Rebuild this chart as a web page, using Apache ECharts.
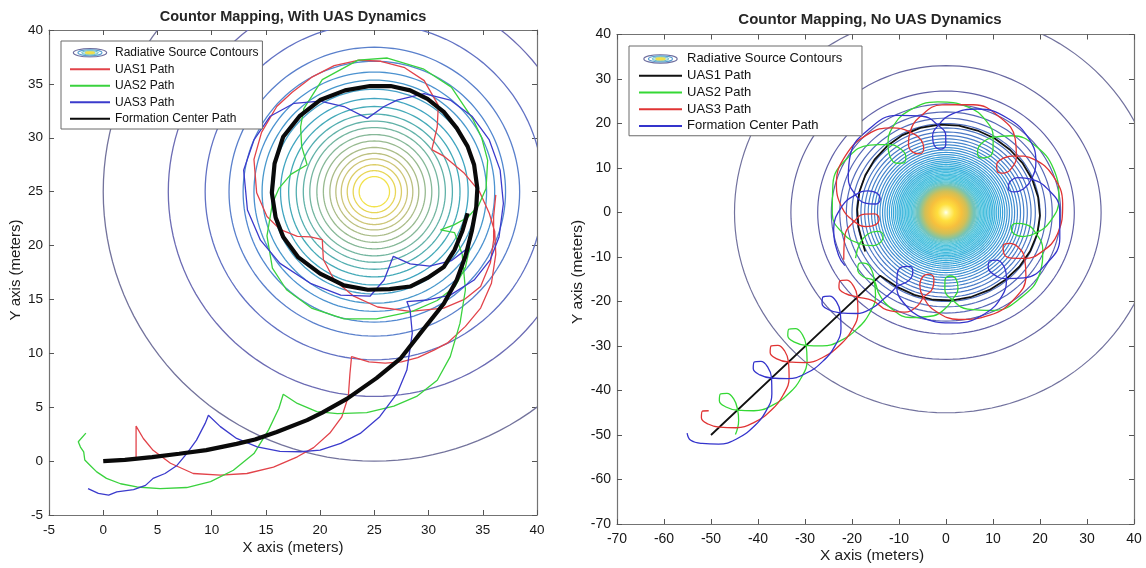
<!DOCTYPE html>
<html><head><meta charset="utf-8">
<script src="https://cdn.jsdelivr.net/npm/echarts@6/dist/echarts.min.js"></script>
<style>html,body{margin:0;padding:0;background:#fff}#c{width:1146px;height:568px}</style>
</head><body><div id="c"></div>
<script>
// ---------------- DATA ----------------
var leftTicks = [-5, 0, 5, 10, 15, 20, 25, 30, 35, 40];
var rightTicks = [-70, -60, -50, -40, -30, -20, -10, 0, 10, 20, 30, 40];

var leftSourceCenter = [25, 25];
var leftContourRadii = [25, 19, 15.6, 13.4, 12.1, 11.1, 10.35, 9.5, 8.65, 7.9, 7.2, 6.55, 5.95, 5.3, 4.7, 4.1, 3.55, 3.05, 2.5, 1.95, 1.4];

var rightSourceCenter = [0, 0];
var rightContourRadii = [45, 33, 27.3, 24.4, 22.6, 21.2, 20.0, 19.0, 18.1, 17.3, 16.55, 15.85, 15.2, 14.6, 14.05, 13.5, 13.0, 12.5, 12.05, 11.6, 11.2, 10.8, 10.4, 10.0, 9.65, 9.3, 8.95, 8.6, 8.3, 8.0, 7.7, 7.4, 7.1, 6.85, 6.6, 6.35];
var rightCoreRadii = [10.6, 6.3];

// Left chart paths [x, y]
var leftUAS1 = [[3.03,0.25],[3.03,3.25],[3.7,2.1],[4.6,1.0],[6.2,-0.2],[8.3,-1.15],[10.8,-1.3],[13.25,-1.15],[15.7,-0.55],[17.9,0.4],[19.4,1.25],[20.9,2.6],[22.0,4.1],[22.6,6.0],[22.75,8.1],[22.9,9.7],
[24.5,9.2],[26.0,9.1],[27.5,9.2],[29.0,9.6],[30.5,10.3],[31.8,11.0],[33.4,12.5],[34.8,14.2],[35.8,16.5],[36.2,19.2],[36.1,21.3],[35.6,23.0],[34.7,25.0],[33.3,26.7],[31.4,28.3],[30.3,28.9],
[30.8,31.0],[30.9,33.0],[29.6,35.3],[27.8,36.5],[25.6,37.1],[23.6,37.2],[21.3,36.7],[19.2,35.6],[17.4,34.2],[16.0,32.9],[14.6,30.5],[13.9,28.0],[14.15,24.9],[15.1,22.7],[16.3,21.5],[17.9,20.85],[19.1,20.8],[20.2,20.55],
[20.3,18.7],[21.3,16.8],[23.1,15.3],[25.3,14.3],[28.3,13.9],[31.4,14.2],[33.3,15.0],[34.8,16.2],[35.7,18.4],[36.0,20.5],[36.0,22.7],[36.2,24.7]];

var leftUAS2 = [[-1.6,2.6],[-2.3,1.8],[-2.1,1.3],[-1.8,0.85],[-1.7,0.1],[-1.2,-0.4],[-0.6,-1.0],[0.3,-1.6],[1.6,-2.1],[3.1,-2.4],[5.25,-2.55],[7.7,-2.45],[9.9,-1.9],[12.0,-0.85],[13.9,0.7],[15.25,2.9],[16.2,4.9],[16.6,6.2],
[17.9,5.35],[19.7,4.6],[21.6,4.4],[24.3,4.5],[26.8,5.1],[28.9,6.0],[30.8,7.5],[32.0,9.7],[32.9,12.8],[33.4,15.9],[33.1,19.2],[32.4,21.2],[31.1,21.45],
[32.3,21.9],[33.6,22.6],[34.6,23.7],[35.3,25.3],[35.45,27.9],[34.9,30.0],[34.1,31.7],[32.1,34.7],[29.5,36.4],[26.2,37.4],[23.5,37.2],[20.2,35.4],[18.5,32.7],[18.2,31.0],[18.3,29.2],[18.8,27.5],
[17.3,26.6],[16.2,25.3],[15.6,23.9],[15.1,20.9],[15.6,17.9],[16.9,15.9],[19.2,14.2],[22.2,13.2],[25.2,13.2],[28.5,13.9],[30.8,14.9],[32.45,16.2],[33.4,18.0],[33.8,19.8]];

var leftUAS3 = [[-1.4,-2.55],[-0.45,-3.0],[0.5,-3.15],[1.25,-2.85],[2.8,-2.65],[3.9,-2.25],[4.6,-1.6],[5.7,-1.15],[6.8,-0.4],[7.7,0.7],[8.6,1.95],[9.4,3.5],[9.7,4.25],
[10.8,3.2],[12.3,2.1],[14.2,1.33],[16.3,0.9],[18.2,0.87],[20.0,1.02],[21.9,1.64],[23.7,2.57],[25.5,4.12],[27.1,6.28],[28.0,8.45],[28.5,11.86],[28.3,14.0],[28.0,14.8],
[29.9,14.95],[32.0,15.4],[34.2,16.8],[35.7,18.7],[36.5,20.8],[36.9,23.9],[36.6,27.0],[35.6,29.8],[34.0,32.0],[32.0,33.5],[29.6,34.1],[27.1,33.5],[25.9,32.9],[24.35,31.8],
[22.2,32.9],[20.0,33.4],[17.6,33.2],[15.4,32.0],[13.9,29.8],[12.95,27.0],[13.3,23.3],[14.5,20.5],[16.3,18.35],[19.1,16.5],[21.9,15.4],[24.6,15.3],[25.9,16.8],[26.75,19.0],
[28.3,18.3],[30.1,18.1],[32.1,18.6],[33.8,19.9]];

var leftFormation = [[0,0],[2,0.12],[4.5,0.37],[7,0.68],[9.5,1.02],[12.3,1.6],[14,2.0],[16,2.7],[18.8,3.8],[20.2,4.5],[22.5,5.8],[25.2,7.7],[27.4,9.5],[29.5,12.2],[31.4,14.6],[32.6,16.8],[33.4,19.0],[34.0,21.4],[34.4,23.6],[34.5,25.3],
[34.2,27.5],[33.6,29.2],[32.6,30.9],[31.4,32.4],[29.9,33.6],[28.3,34.4],[26.5,34.8],[24.6,34.8],[22.3,34.4],[20.0,33.5],[18.1,32.0],[16.6,30.1],[15.8,27.6],[15.55,24.9],[15.9,22.6],[16.6,20.8],[18.0,18.9],[20.0,17.4],[22.2,16.3],[24.4,15.9],[26.4,15.95],[28.3,16.2],[29.9,17.0],[31.4,18.0],[32.4,19.6],[33.1,21.3],[33.6,23.0]];

// Right chart paths: straight part as [x, y], circling part read as [angle deg, radius] about the source
var rightUAS1Line = [[-50,-50],[-14,-14.2]];
var rightUAS1Circle = [[225.4,19.9],[238,19.7],[250,19.7],[262,19.8],[274,19.8],[286,19.7],[298,19.7],[310,19.7],[322,19.8],[334,19.9],[346,20.0],[358,20.0],[370,19.9],[382,19.8],[394,19.7],[406,19.6],[418,19.6],[430,19.6],[442,19.7],[454,19.8],[466,19.8],[478,19.7],[490,19.5],[502,19.3],[514,19.1],[526,19.0],[538,18.9],[550,18.9],[561,19.0],[567,19.3]];

var rightUAS2Line = [[-44.8,-49.9],[-44.12,-46.67],[-44.34,-44.34],[-45.11,-42.0],[-46.6,-40.66],[-48.01,-40.8],[-48.22,-42.28],[-46.81,-43.7],[-44.41,-44.41],
[-40.87,-44.55],[-36.98,-43.35],[-33.45,-40.66],[-30.83,-37.19],[-29.56,-33.23],
[-29.77,-29.77],[-30.55,-27.44],[-32.03,-26.09],[-33.45,-26.23],[-33.66,-27.72],[-32.24,-29.13],[-29.84,-29.84],
[-26.3,-29.98],[-22.42,-28.78],[-18.88,-26.09],[-16.26,-22.63],[-14.99,-18.67],
[-15.27,-15.27],[-15.8,-13.0],[-16.9,-11.5],[-18.2,-11.3],[-18.8,-12.8],[-17.5,-14.5],[-15.34,-15.34],
[-14.2,-18.4],[-11.6,-21.6],[-7.6,-23.6],[-2.6,-23.2],[0,-21.4]];
var rightUAS2Circle = [[274,19.6],[278.5,17.3],[278.3,15.2],[273.7,14.3],[269.2,15.2],[269.2,17.3],[273.7,19.6],
[282,22.2],[294.5,24.2],[310,24.9],[325.5,24.2],[338,22.2],
[346.5,19.6],[351,17.3],[350.8,15.2],[346.2,14.3],[341.7,15.2],[341.7,17.3],[346.2,19.6],
[354.5,22.2],[367,24.2],[383,24.9],[398.5,24.2],[411,22.2],
[419.5,19.6],[424,17.3],[423.8,15.2],[419.2,14.3],[414.7,15.2],[414.7,17.3],[419.2,19.6],
[427,22.2],[439,24.2],[454,24.9],[469,24.2],[481,22.2],
[489,19.6],[493.5,17.3],[493.3,15.2],[488.7,14.3],[484.2,15.2],[484.2,17.3],[488.7,19.6],
[497,22.2],[509,24.2],[525,24.9],[540.5,24.2],[553,22.2],
[561,19.6],[565.5,17.3],[565.3,15.2],[560.7,14.3],[556.2,15.2],[556.2,17.3],[560.7,19.6],
[568,21.8]];

var rightUAS3Line = [[-50.49,-44.55],[-51.83,-44.62],[-52.04,-46.1],[-50.63,-47.52],[-48.22,-48.22],
[-44.69,-48.37],[-40.8,-47.16],[-37.26,-44.48],[-34.65,-41.01],[-33.38,-37.05],
[-33.52,-33.52],[-34.29,-31.18],[-35.78,-29.84],[-37.19,-29.98],[-37.41,-31.47],[-35.99,-32.88],[-33.59,-33.59],
[-30.05,-33.73],[-26.16,-32.53],[-22.63,-29.84],[-20.01,-26.37],[-18.74,-22.42],
[-18.88,-18.88],[-19.66,-16.55],[-21.14,-15.2],[-22.56,-15.34],[-22.77,-16.83],[-21.35,-18.24],[-18.95,-18.95],
[-15.6,-19.8],[-12.6,-21.9],[-8.8,-22.4],[-6.2,-21.1]];
var rightUAS3Circle = [[256,19.6],[260.5,17.3],[260.3,15.2],[255.7,14.3],[251.2,15.2],[251.2,17.3],[255.7,19.6],
[264,22.2],[276.5,24.2],[292,24.9],[307.5,24.2],[320,22.2],
[328.5,19.6],[333,17.3],[332.8,15.2],[328.2,14.3],[323.7,15.2],[323.7,17.3],[328.2,19.6],
[336.5,22.2],[348.5,24.2],[364.5,24.9],[380,24.2],[392.5,22.2],
[400.5,19.6],[405,17.3],[404.8,15.2],[400.2,14.3],[395.7,15.2],[395.7,17.3],[400.2,19.6],
[408.5,22.2],[421,24.2],[436.5,24.9],[452,24.2],[464.5,22.2],
[473,19.6],[477.5,17.3],[477.3,15.2],[472.7,14.3],[468.2,15.2],[468.2,17.3],[472.7,19.6],
[481,22.2],[493.5,24.2],[509,24.9],[524.5,24.2],[537,22.2],
[546,19.6],[550.5,17.3],[550.3,15.2],[545.7,14.3],[541.2,15.2],[541.2,17.3],[545.7,19.6],
[554,22.2],[566,24.2]];

var rightFormationLine = [[-55.08,-49.57],[-54.31,-51.19],[-51.9,-51.9],
[-48.37,-52.04],[-44.48,-50.84],[-40.94,-48.15],[-38.33,-44.69],[-37.05,-40.73],
[-37.12,-37.12],[-37.9,-34.79],[-39.39,-33.45],[-40.8,-33.59],[-41.01,-35.07],[-39.6,-36.49],[-37.19,-37.19],
[-33.66,-37.33],[-29.77,-36.13],[-26.23,-33.45],[-23.62,-29.98],[-22.34,-26.02],
[-22.49,-22.49],[-23.26,-20.15],[-24.75,-18.81],[-26.16,-18.95],[-26.37,-20.44],[-24.96,-21.85],[-22.56,-22.56],
[-19.0,-22.7],[-15.6,-21.4],[-13.2,-19.4],[-11.6,-17.9]];
var rightFormationCircle = [[238,19.6],[242.5,17.3],[242.3,15.2],[237.7,14.3],[233.2,15.2],[233.2,17.3],[237.7,19.6],
[246,22.2],[258.5,24.2],[274.5,24.9],[290,24.2],[302.5,22.2],
[311,19.6],[315.5,17.3],[315.3,15.2],[310.7,14.3],[306.2,15.2],[306.2,17.3],[310.7,19.6],
[318.5,22.2],[331,24.2],[346.5,24.9],[361.5,24.2],[374,22.2],
[382.5,19.6],[387,17.3],[386.8,15.2],[382.2,14.3],[377.7,15.2],[377.7,17.3],[382.2,19.6],
[390.5,22.2],[403,24.2],[418.5,24.9],[434,24.2],[446.5,22.2],
[455,19.6],[459.5,17.3],[459.3,15.2],[454.7,14.3],[450.2,15.2],[450.2,17.3],[454.7,19.6],
[463,22.2],[475.5,24.2],[491.5,24.9],[507,24.2],[519.5,22.2],
[528.5,19.6],[533,17.3],[532.8,15.2],[528.2,14.3],[523.7,15.2],[523.7,17.3],[528.2,19.6],
[536.5,22.2],[549,24.2],[563,24.8],[569,24.6]];

// ---------------- STYLES ----------------
var FONT = '"Liberation Sans", Arial, Helvetica, sans-serif';
var leftContourColors = ['#73739c','#6c6cb4','#6272c4','#5a80cc','#5288d0','#4c92d0','#4898cc','#449fc6','#40a5c0','#44aab8','#52aeb0','#62b2a8','#74b6a0','#86b898','#98ba90','#aabc88','#bcc080','#cec678','#dccd66','#e8d656','#f2e24a'];
var rightContourColors = ['#72729e','#6868a2','#6262a8','#5c64b0','#5868b6','#546cba','#5070be','#4c74c2','#4a78c6','#487cc8','#4680ca','#4484cc','#4288ce','#408cd0','#3e90d2','#3c94d4','#3a98d6','#389cd8','#38a0d8','#38a4da','#38a8da','#3aacdb','#3aafdb','#3cb2dc','#3eb5dc','#40b8dd','#42badd','#44bcdd','#46bedd','#48c0dd','#4ac1dc','#4ec2da','#54c3d6','#5cc4d0','#66c4c8','#72c4bc'];
var rightCoreFills = ['#c9ecf7', {type:'radial', x:0.5, y:0.5, r:0.5, colorStops:[
  {offset:0, color:'#fffff2'},{offset:0.1, color:'#fff79a'},{offset:0.3, color:'#ffdf3e'},{offset:0.55, color:'#f7c03c'},{offset:0.75, color:'#d2bf56'},{offset:0.9, color:'#96c490'},{offset:1, color:'#72c4bc'}]}];

function toXY(list) {
  return list.map(function (p) { var a = p[0] * Math.PI / 180; return [p[1] * Math.cos(a), p[1] * Math.sin(a)]; });
}

function ringPoints(api, cx, cy, r) {
  var pts = [];
  for (var k = 0; k <= 144; k++) {
    var a = k * Math.PI / 72;
    pts.push(api.coord([cx + r * Math.cos(a), cy + r * Math.sin(a)]));
  }
  return pts;
}
function clipRect(params) {
  var cs = params.coordSys;
  return { type: 'rect', shape: { x: cs.x, y: cs.y, width: cs.width, height: cs.height } };
}
function ringSeries(name, center, radii, colors, axisIdx, width) {
  return {
    type: 'custom', name: name, xAxisIndex: axisIdx, yAxisIndex: axisIdx, clip: true, silent: true,
    data: radii.map(function (r) { return [center[0], center[1], r]; }),
    encode: { x: 0, y: 1 },
    renderItem: function (params, api) {
      var pts = ringPoints(api, api.value(0), api.value(1), api.value(2));
      return { type: 'group', clipPath: clipRect(params), children: [
        { type: 'polyline', shape: { points: pts }, style: { stroke: colors[params.dataIndex], fill: 'none', lineWidth: width } }] };
    }
  };
}
function fillSeries(center, radii, fills, axisIdx) {
  return {
    type: 'custom', name: 'core', xAxisIndex: axisIdx, yAxisIndex: axisIdx, clip: true, silent: true,
    data: radii.map(function (r) { return [center[0], center[1], r]; }),
    encode: { x: 0, y: 1 },
    renderItem: function (params, api) {
      var pts = ringPoints(api, api.value(0), api.value(1), api.value(2));
      return { type: 'group', clipPath: clipRect(params), children: [
        { type: 'polygon', shape: { points: pts }, style: { fill: fills[params.dataIndex], stroke: 'none' } }] };
    }
  };
}
function pathSeries(name, data, color, width, axisIdx, smooth) {
  return { type: 'line', name: name, data: data, xAxisIndex: axisIdx, yAxisIndex: axisIdx, symbol: 'none', smooth: smooth,
    lineStyle: { color: color, width: width }, itemStyle: { color: color }, z: 3, silent: true };
}

var svg = "<svg xmlns='http://www.w3.org/2000/svg' width='44' height='12'>" +
  "<ellipse cx='22' cy='6' rx='20' ry='5' fill='#ffffff' stroke='#6d6d9e' stroke-width='1.4'/>" +
  "<ellipse cx='22' cy='6' rx='14.5' ry='3.6' fill='none' stroke='#5a9fd2' stroke-width='1.3'/>" +
  "<ellipse cx='22' cy='6' rx='10' ry='2.5' fill='#bfe6ee' stroke='#66bcbc' stroke-width='1.1'/>" +
  "<ellipse cx='22' cy='6' rx='6' ry='1.6' fill='#f2e24a' stroke='#e6d84e' stroke-width='0.8'/></svg>";
var contourIcon = 'image://data:image/svg+xml;charset=utf-8,' + encodeURIComponent(svg);

function axisPair(grid, min, max, interval, fs, margin, isX) {
  var base = {
    gridIndex: grid, type: 'value', min: min, max: max, interval: interval,
    axisLine: { show: true, onZero: false, lineStyle: { color: '#737373', width: 1.2 } },
    axisTick: { show: true, inside: true, length: 5, lineStyle: { color: '#555', width: 1 } },
    splitLine: { show: false }
  };
  var a = Object.assign({}, base, { position: isX ? 'bottom' : 'left',
    axisLabel: { show: true, color: '#171717', fontSize: fs, fontFamily: FONT, margin: margin } });
  var b = Object.assign({}, base, { position: isX ? 'top' : 'right', axisLabel: { show: false } });
  return [a, b];
}

var xAxes = [].concat(axisPair(0, leftTicks[0], leftTicks[leftTicks.length - 1], 5, 13.5, 8, true),
                      axisPair(1, rightTicks[0], rightTicks[rightTicks.length - 1], 10, 14, 8, true));
var yAxes = [].concat(axisPair(0, leftTicks[0], leftTicks[leftTicks.length - 1], 5, 13.5, 6, false),
                      axisPair(1, rightTicks[0], rightTicks[rightTicks.length - 1], 10, 14, 6, false));

function legendBox(left, top, pad, iw, fs, lh, names) {
  return { show: true, orient: 'vertical', left: left, top: top, padding: pad, itemWidth: iw, itemHeight: 10, itemGap: 0,
    backgroundColor: '#ffffff', borderColor: '#6a6a6a', borderWidth: 1, selectedMode: false,
    itemStyle: { opacity: 0 },
    textStyle: { fontSize: fs, lineHeight: lh, color: '#111', fontFamily: FONT },
    data: [{ name: names[0], icon: contourIcon, itemStyle: { opacity: 1 } }, names[1], names[2], names[3], names[4]] };
}
var leftNames = ['Radiative Source Contours', 'UAS1 Path', 'UAS2 Path', 'UAS3 Path', 'Formation Center Path'];
var rightNames = ['Radiative Source Contours ', 'UAS1 Path ', 'UAS2 Path ', 'UAS3 Path ', 'Formation Center Path '];

var option = {
  animation: false,
  backgroundColor: '#ffffff',
  grid: [
    { left: 49, top: 30, width: 488, height: 485, containLabel: false },
    { left: 617, top: 34.5, width: 517, height: 489.5, containLabel: false }
  ],
  xAxis: xAxes,
  yAxis: yAxes,
  legend: [
    legendBox(61, 41, [3.5, 4, 2, 8], 40, 12, 16.5, leftNames),
    legendBox(629, 46, [4.5, 16, 1.5, 9], 43, 13, 16.75, rightNames)
  ],
  graphic: [
    { type: 'text', x: 293, y: 17, style: { text: 'Countor Mapping, With UAS Dynamics', textAlign: 'center', textVerticalAlign: 'middle', font: 'bold 14.5px ' + FONT, fill: '#262626' } },
    { type: 'text', x: 870, y: 20, style: { text: 'Countor Mapping, No UAS Dynamics', textAlign: 'center', textVerticalAlign: 'middle', font: 'bold 15px ' + FONT, fill: '#262626' } },
    { type: 'text', x: 293, y: 548, style: { text: 'X axis (meters)', textAlign: 'center', textVerticalAlign: 'middle', font: '15px ' + FONT, fill: '#1c1c1c' } },
    { type: 'text', x: 872, y: 556, style: { text: 'X axis (meters)', textAlign: 'center', textVerticalAlign: 'middle', font: '15.5px ' + FONT, fill: '#1c1c1c' } },
    { type: 'text', x: 16, y: 270, rotation: Math.PI / 2, style: { text: 'Y axis (meters)', textAlign: 'center', textVerticalAlign: 'middle', font: '15px ' + FONT, fill: '#1c1c1c' } },
    { type: 'text', x: 578, y: 272, rotation: Math.PI / 2, style: { text: 'Y axis (meters)', textAlign: 'center', textVerticalAlign: 'middle', font: '15.5px ' + FONT, fill: '#1c1c1c' } }
  ],
  series: [
    ringSeries(leftNames[0], leftSourceCenter, leftContourRadii, leftContourColors, 0, 1.3),
    pathSeries(leftNames[1], leftUAS1, '#e2434a', 1.3, 0, false),
    pathSeries(leftNames[2], leftUAS2, '#3ad23e', 1.3, 0, false),
    pathSeries(leftNames[3], leftUAS3, '#3b3bcc', 1.3, 0, false),
    pathSeries(leftNames[4], leftFormation, '#0a0a0a', 4.2, 0, false),

    fillSeries(rightSourceCenter, rightCoreRadii, rightCoreFills, 2),
    ringSeries(rightNames[0], rightSourceCenter, rightContourRadii, rightContourColors, 2, 1.2),
    pathSeries(rightNames[1], rightUAS1Line.concat(toXY(rightUAS1Circle)), '#111111', 1.8, 2, false),
    pathSeries(rightNames[2], rightUAS2Line.concat(toXY(rightUAS2Circle)), '#35d835', 1.3, 2, 0.45),
    pathSeries(rightNames[3], rightUAS3Line.concat(toXY(rightUAS3Circle)), '#e03434', 1.3, 2, 0.45),
    pathSeries(rightNames[4], rightFormationLine.concat(toXY(rightFormationCircle)), '#3434cc', 1.3, 2, 0.45)
  ]
};

var chart = echarts.init(document.getElementById('c'), null, { renderer: 'canvas' });
chart.setOption(option);
</script></body></html>
